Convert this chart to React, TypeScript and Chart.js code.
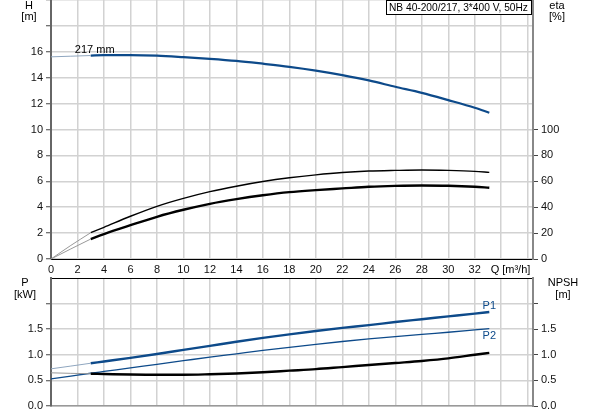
import React, { useEffect, useRef } from 'react';
import { Chart, registerables } from 'chart.js';

Chart.register(...registerables);

// Flow rate Q [m³/h]
const Q = [0, 1.5, 3, 4, 6, 8, 10, 12, 14, 16, 18, 20, 22, 24, 26, 28, 30, 32, 33.1];
// Head H [m]
const H = [15.61, 15.66, 15.71, 15.74, 15.74, 15.70, 15.59, 15.46, 15.30, 15.08, 14.84, 14.55, 14.20, 13.79, 13.30, 12.83, 12.27, 11.68, 11.29];
// Efficiencies [%]
const ETA_PUMP = [0, 10.5, 20.3, 24.5, 33, 40.7, 46.8, 52, 56.2, 59.8, 62.7, 65, 66.8, 67.9, 68.4, 68.7, 68.4, 67.7, 66.9];
const ETA_TOTAL = [0, 7.8, 15.4, 19.3, 26.1, 32.6, 38, 42.6, 46.2, 49.2, 51.6, 53.2, 54.5, 55.8, 56.5, 56.8, 56.6, 55.8, 55];
// Power [kW]
const P1 = [0.726, 0.78, 0.835, 0.87, 0.94, 1.015, 1.095, 1.175, 1.255, 1.33, 1.40, 1.465, 1.525, 1.58, 1.64, 1.695, 1.75, 1.805, 1.835];
const P2 = [0.53, 0.585, 0.64, 0.675, 0.745, 0.815, 0.885, 0.955, 1.02, 1.085, 1.145, 1.205, 1.26, 1.31, 1.355, 1.40, 1.44, 1.485, 1.51];
// NPSH [m]
const NPSH = [0.648, 0.638, 0.63, 0.625, 0.615, 0.61, 0.61, 0.62, 0.636, 0.66, 0.69, 0.72, 0.76, 0.80, 0.84, 0.88, 0.93, 1.0, 1.037];

const SPLIT = 2; // index of Q = 3, where the operating range (thick line) begins

const Q_MAX = 36.4;
const Q_STEP = 2;
const Q_LABEL_MAX = 32;
const H_MAX = 20;
const H_STEP = 2;
const H_LABEL_MAX = 16;
const ETA_MAX = 200;
const ETA_STEP = 20;
const ETA_LABEL_MAX = 100;
const P_MAX = 2.5;
const P_STEP = 0.5;
const P_LABEL_MAX = 1.5;
const P_TICK_MAX = 2.0;

const TITLE = 'NB 40-200/217, 3*400 V, 50Hz';
const IMPELLER = '217 mm';
const IMPELLER_POS = { q: 3.3, h: 16.15 };
const P1_LABEL_POS = { q: 33.1, p: 1.96 };
const P2_LABEL_POS = { q: 33.1, p: 1.36 };

const FONT = 'Liberation Sans, Arial, sans-serif';
const BLUE = '#0d4a8a';
const GRID = '#d2d2d2';

const pts = (ys: number[]) => Q.map((x, i) => ({ x, y: ys[i] }));
const thinPart = (ys: number[]) => pts(ys).slice(0, SPLIT + 1);
const thickPart = (ys: number[]) => pts(ys).slice(SPLIT);

const lineDs = (data: any[], color: string, width: number, axis: string) => ({
  data,
  borderColor: color,
  borderWidth: width,
  pointRadius: 0,
  fill: false,
  cubicInterpolationMode: 'monotone' as const,
  yAxisID: axis,
});

const tickFont = { family: FONT, size: 11 };

export default function App() {
  const topRef = useRef<HTMLCanvasElement>(null);
  const botRef = useRef<HTMLCanvasElement>(null);

  useEffect(() => {
    const topText = {
      id: 'topText',
      afterDraw(chart: any) {
        const c = chart.ctx;
        const xs = chart.scales.x;
        const ys = chart.scales.y;
        c.save();
        c.font = `11px ${FONT}`;
        c.fillStyle = '#000';
        c.textAlign = 'center';
        c.textBaseline = 'middle';
        c.fillText('H', 29, 6);
        c.fillText('[m]', 29, 17);
        c.fillText('eta', 557, 6);
        c.fillText('[%]', 557, 17);
        c.fillText(IMPELLER, xs.getPixelForValue(IMPELLER_POS.q), ys.getPixelForValue(IMPELLER_POS.h));
        c.fillText('Q [m³/h]', xs.getPixelForValue(34.7), chart.chartArea.bottom + 11);
        // title box
        c.fillStyle = '#fff';
        c.fillRect(386, 0, 146, 15);
        c.strokeStyle = '#000';
        c.lineWidth = 1;
        c.strokeRect(386.5, 0.5, 145, 14);
        c.fillStyle = '#000';
        c.textAlign = 'left';
        let size = 11;
        c.font = `${size}px ${FONT}`;
        const w = c.measureText(TITLE).width;
        if (w > 139) {
          size = (11 * 139) / w;
          c.font = `${size}px ${FONT}`;
        }
        c.fillText(TITLE, 389, 8);
        c.restore();
      },
    };

    const botText = {
      id: 'botText',
      afterDraw(chart: any) {
        const c = chart.ctx;
        const xs = chart.scales.x;
        const ys = chart.scales.y;
        c.save();
        c.font = `11px ${FONT}`;
        c.fillStyle = '#000';
        c.textAlign = 'center';
        c.textBaseline = 'middle';
        c.fillText('P', 25, 6);
        c.fillText('[kW]', 25, 18);
        c.fillText('NPSH', 563, 6);
        c.fillText('[m]', 563, 18);
        c.fillStyle = BLUE;
        c.fillText('P1', xs.getPixelForValue(P1_LABEL_POS.q), ys.getPixelForValue(P1_LABEL_POS.p));
        c.fillText('P2', xs.getPixelForValue(P2_LABEL_POS.q), ys.getPixelForValue(P2_LABEL_POS.p));
        c.restore();
      },
    };

    const xScale = (showLabels: boolean, h: number, borderColor: string, borderWidth: number) => ({
      type: 'linear',
      min: 0,
      max: Q_MAX,
      ticks: {
        display: showLabels,
        stepSize: Q_STEP,
        includeBounds: false,
        autoSkip: false,
        maxRotation: 0,
        padding: 4,
        font: tickFont,
        color: '#111',
        callback: (v: number) => (v <= Q_LABEL_MAX ? String(v) : ''),
      },
      grid: { color: GRID, lineWidth: 1.5, drawTicks: false },
      border: { color: borderColor, width: borderWidth },
      afterFit: (s: any) => {
        s.height = h;
        s.paddingLeft = 0;
        s.paddingRight = 0;
      },
    });

    const top = new Chart(topRef.current!, {
      type: 'line',
      data: {
        datasets: [
          lineDs(thinPart(H), '#8fa6bf', 1, 'y'),
          lineDs(thickPart(H), BLUE, 2.2, 'y'),
          lineDs(thinPart(ETA_PUMP), '#999', 1, 'eta'),
          lineDs(thickPart(ETA_PUMP), '#000', 1.4, 'eta'),
          lineDs(thinPart(ETA_TOTAL), '#999', 1, 'eta'),
          lineDs(thickPart(ETA_TOTAL), '#000', 2.4, 'eta'),
        ],
      },
      options: {
        responsive: false,
        animation: false,
        devicePixelRatio: 1,
        layout: { padding: 0 },
        plugins: { legend: { display: false }, tooltip: { enabled: false } },
        scales: {
          x: xScale(true, 18, '#000', 1) as any,
          y: {
            type: 'linear',
            position: 'left',
            min: 0,
            max: H_MAX,
            ticks: {
              stepSize: H_STEP,
              padding: 3,
              font: tickFont,
              color: '#111',
              callback: (v: any) => (v <= H_LABEL_MAX ? String(v) : ''),
            },
            grid: { color: GRID, lineWidth: 1.5, tickLength: 5, tickColor: '#444', tickWidth: 1 },
            border: { color: '#666', width: 2 },
            afterFit: (s: any) => {
              s.width = 51;
              s.paddingTop = 0;
              s.paddingBottom = 0;
            },
          },
          eta: {
            type: 'linear',
            position: 'right',
            min: 0,
            max: ETA_MAX,
            ticks: {
              stepSize: ETA_STEP,
              padding: 3,
              font: tickFont,
              color: '#111',
            },
            afterBuildTicks: (s: any) => {
              s.ticks = s.ticks.filter((t: any) => t.value <= ETA_LABEL_MAX);
            },
            grid: { drawOnChartArea: false, tickLength: 5, tickColor: '#444', tickWidth: 1 },
            border: { color: '#888', width: 2 },
            afterFit: (s: any) => {
              s.width = 60;
              s.paddingTop = 0;
              s.paddingBottom = 0;
            },
          },
        },
      } as any,
      plugins: [topText],
    });

    const bot = new Chart(botRef.current!, {
      type: 'line',
      data: {
        datasets: [
          lineDs(thinPart(NPSH), '#999', 1, 'npsh'),
          lineDs(thickPart(NPSH), '#000', 2.4, 'npsh'),
          lineDs(pts(P2), BLUE, 1.3, 'y'),
          lineDs(thinPart(P1), '#8fa6bf', 1, 'y'),
          lineDs(thickPart(P1), BLUE, 2.4, 'y'),
        ],
      },
      options: {
        responsive: false,
        animation: false,
        devicePixelRatio: 1,
        layout: { padding: { top: 1, left: 0, right: 0, bottom: 0 } },
        plugins: { legend: { display: false }, tooltip: { enabled: false } },
        scales: {
          x: xScale(false, 9, '#999', 1.5) as any,
          y: {
            type: 'linear',
            position: 'left',
            min: 0,
            max: P_MAX,
            ticks: {
              stepSize: P_STEP,
              padding: 3,
              font: tickFont,
              color: '#111',
              callback: (v: any) => (v <= P_LABEL_MAX ? Number(v).toFixed(1) : ''),
            },
            grid: {
              color: (ctx: any) => (ctx.tick && ctx.tick.value >= P_MAX ? '#000' : GRID),
              lineWidth: (ctx: any) => (ctx.tick && ctx.tick.value >= P_MAX ? 1 : 1.5),
              tickLength: 5,
              tickColor: (ctx: any) => (ctx.tick && ctx.tick.value >= P_MAX ? 'rgba(0,0,0,0)' : '#444'),
              tickWidth: 1,
            },
            border: { color: '#666', width: 2 },
            afterFit: (s: any) => {
              s.width = 51;
              s.paddingTop = 0;
              s.paddingBottom = 0;
            },
          },
          npsh: {
            type: 'linear',
            position: 'right',
            min: 0,
            max: P_MAX,
            ticks: {
              stepSize: P_STEP,
              padding: 3,
              font: tickFont,
              color: '#111',
              callback: (v: any) => (v <= P_LABEL_MAX ? Number(v).toFixed(1) : ''),
            },
            afterBuildTicks: (s: any) => {
              s.ticks = s.ticks.filter((t: any) => t.value <= P_TICK_MAX + 1e-9);
            },
            grid: { drawOnChartArea: false, tickLength: 5, tickColor: '#444', tickWidth: 1 },
            border: { color: '#888', width: 2 },
            afterFit: (s: any) => {
              s.width = 60;
              s.paddingTop = 0;
              s.paddingBottom = 0;
            },
          },
        },
      } as any,
      plugins: [botText],
    });

    return () => {
      top.destroy();
      bot.destroy();
    };
  }, []);

  return (
    <div style={{ position: 'absolute', left: 0, top: 0, width: 593, height: 415, background: '#fff' }}>
      <canvas ref={topRef} width={593} height={277} style={{ position: 'absolute', left: 0, top: 0 }} />
      <canvas ref={botRef} width={593} height={138} style={{ position: 'absolute', left: 0, top: 277 }} />
    </div>
  );
}
